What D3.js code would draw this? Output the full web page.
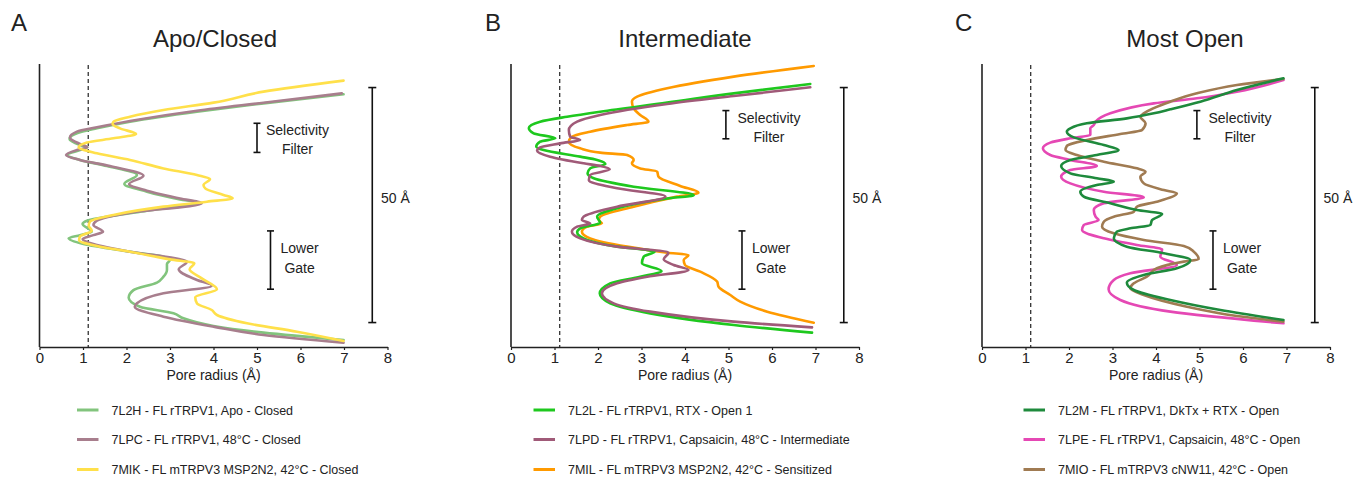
<!DOCTYPE html>
<html>
<head>
<meta charset="utf-8">
<script src="https://cdn.jsdelivr.net/npm/d3@7"></script>
<style>
  html, body { margin: 0; padding: 0; background: #fff; }
  svg { display: block; }
  text { font-family: "Liberation Sans", Arial, Helvetica, sans-serif; fill: #222; }
</style>
</head>
<body>
<svg id="chart" width="1356" height="479"></svg>
<script>
// ---------- DATA ----------
// Each profile: [pore radius (Å), position along pore axis (Å)]
const panelLetters = ["A", "B", "C"];
const panelTitles = ["Apo/Closed", "Intermediate", "Most Open"];
const xTicks = [0, 1, 2, 3, 4, 5, 6, 7, 8];
const xLabel = "Pore radius (Å)";
const waterRadius = 1.12;

// Panel A
const s7L2H = [[6.99,53.76],[5.15,51.84],[3.62,50.07],[2.08,47.94],[1.32,46.52],[0.86,45.46],[0.69,44.26],[0.93,42.98],[1.10,42.48],[0.93,41.9],[0.63,40.85],[0.93,39.8],[1.55,38.5],[2.24,36.6],[1.95,34.7],[2.47,33.05],[3.23,31.4],[3.62,30.7],[2.47,29.0],[1.70,27.94],[1.09,26.88],[0.99,26.17],[1.20,24.54],[0.93,23.8],[0.67,23.12],[1.01,21.9],[2.08,20.28],[2.85,19.22],[3.0,18.5],[2.93,17.66],[2.93,16.4],[2.85,14.96],[2.70,13.7],[2.16,12.1],[2.05,10.5],[2.31,8.58],[3.08,7.16],[3.31,6.1],[4.0,4.47],[5.15,3.05],[6.99,1.49]];
const s7LPC = [[6.95,53.97],[5.15,51.98],[3.62,50.28],[2.08,48.09],[1.32,46.74],[0.86,45.82],[0.70,44.6],[0.93,43.19],[1.10,42.48],[0.86,41.9],[0.61,40.85],[0.93,39.8],[1.62,38.5],[2.39,36.45],[2.06,34.68],[2.47,33.26],[3.23,31.6],[3.73,30.57],[2.08,28.58],[1.32,26.88],[1.24,25.96],[1.46,24.54],[1.24,23.8],[0.99,22.98],[1.24,21.9],[2.08,20.28],[3.23,18.65],[3.39,18.16],[3.2,16.52],[3.62,14.26],[3.96,13.05],[2.85,11.42],[2.24,9.29],[2.19,8.58],[2.85,6.45],[4.0,4.33],[5.15,2.55],[6.99,0.92]];
const s7MIK = [[6.99,56.67],[5.15,54.33],[4.0,51.99],[2.85,50.43],[2.08,49.0],[1.70,47.94],[1.68,47.45],[1.85,46.52],[2.22,45.3],[1.70,44.4],[1.09,43.5],[0.90,42.48],[1.32,41.2],[2.08,39.8],[2.85,38.0],[3.62,36.6],[3.92,35.74],[3.77,34.47],[3.81,33.76],[4.23,32.34],[4.44,31.63],[3.85,30.92],[2.85,29.86],[1.70,28.09],[1.16,26.67],[1.13,25.82],[1.20,24.75],[0.93,23.48],[0.91,22.7],[1.32,21.49],[2.08,20.28],[3.0,18.65],[3.56,17.8],[3.45,16.52],[3.73,14.6],[4.08,12.27],[3.58,10.57],[3.62,9.29],[3.96,7.87],[4.08,6.81],[4.77,5.04],[5.92,3.26],[6.99,1.28]];

// Panel B
const s7L2L = [[6.88,55.96],[5.12,53.97],[3.59,51.99],[2.05,50.07],[1.29,49.0],[0.67,47.94],[0.41,46.6],[0.52,45.46],[1.02,44.4],[0.67,43.69],[0.58,42.62],[0.75,41.9],[1.59,40.5],[1.98,39.8],[2.17,38.94],[1.82,38.0],[1.76,36.95],[1.9,35.9],[2.82,34.1],[4.2,32.3],[3.59,31.6],[2.44,29.5],[1.98,27.73],[2.05,26.45],[1.59,25.25],[1.52,24.4],[1.75,22.77],[2.44,21.35],[3.30,20.28],[3.05,19.22],[3.01,17.8],[3.46,16.17],[2.97,14.96],[2.28,13.55],[2.04,11.42],[2.28,9.29],[3.20,7.16],[5.12,4.68],[6.92,3.05]];
const s7LPD = [[6.88,55.25],[5.12,53.4],[3.59,51.7],[2.05,49.36],[1.52,47.94],[1.33,46.17],[1.36,44.75],[1.59,44.04],[1.13,43.33],[0.67,42.48],[0.6,41.77],[0.9,40.5],[1.67,39.08],[2.05,38.5],[2.27,37.8],[1.82,36.6],[1.79,35.5],[2.44,33.76],[3.55,32.0],[2.44,29.86],[1.67,27.73],[1.63,27.0],[1.82,26.3],[1.52,25.6],[1.40,24.54],[1.59,23.12],[2.44,21.35],[3.62,20.07],[3.51,18.65],[3.74,17.45],[4.08,16.38],[3.13,14.96],[2.44,13.55],[2.09,11.42],[2.36,9.29],[3.20,7.52],[5.12,5.39],[6.92,4.18]];
const s7MIL = [[6.96,59.79],[5.12,57.52],[3.59,55.04],[2.9,53.26],[2.78,52.2],[2.82,50.78],[2.97,49.36],[3.16,47.94],[2.67,47.23],[1.82,45.82],[1.40,44.75],[1.33,43.69],[1.59,42.27],[2.05,41.35],[2.67,40.85],[2.82,39.8],[2.78,39.08],[2.97,38.0],[3.36,37.3],[3.39,36.24],[3.89,34.26],[4.31,32.84],[3.82,31.99],[2.82,29.86],[2.05,27.73],[2.02,27.0],[2.09,26.31],[1.75,25.6],[1.63,24.54],[1.82,23.12],[2.67,21.35],[3.59,20.07],[4.08,19.57],[3.97,18.51],[4.0,17.45],[4.35,16.03],[4.74,13.9],[4.77,12.84],[5.04,11.06],[5.27,9.65],[5.89,7.52],[6.96,5.18]];

// Panel C
const s7L2M = [[6.93,57.16],[5.86,54.68],[5.02,52.2],[4.33,50.57],[3.95,49.72],[3.33,48.65],[2.41,47.59],[2.03,46.52],[1.95,45.82],[2.11,44.6],[2.80,42.98],[3.14,41.91],[2.64,40.85],[2.03,39.79],[1.82,38.5],[2.03,36.95],[2.64,35.89],[3.03,35.18],[2.64,34.47],[2.26,33.05],[2.34,31.99],[2.95,30.57],[3.56,29.15],[4.14,28.3],[3.91,27.0],[3.87,25.96],[3.41,25.25],[3.10,24.54],[3.03,23.12],[3.33,21.35],[4.18,19.93],[4.79,18.51],[4.48,16.74],[3.72,15.32],[3.33,13.69],[3.49,12.13],[4.33,10.0],[5.48,7.87],[6.93,5.74]];
const s7LPE = [[6.93,56.81],[5.86,54.33],[4.94,52.91],[3.95,51.84],[2.95,49.72],[2.61,47.94],[2.57,47.23],[2.49,46.52],[2.49,45.11],[2.03,44.4],[1.57,43.48],[1.40,42.27],[1.57,40.85],[2.03,39.79],[2.64,38.51],[2.03,37.66],[1.82,36.24],[2.03,34.82],[2.80,33.05],[3.72,31.84],[2.80,30.57],[2.57,29.15],[2.61,27.73],[2.68,27.0],[2.34,25.96],[2.30,24.89],[2.80,23.12],[3.56,21.7],[4.14,20.78],[4.10,19.22],[4.48,17.45],[3.41,15.67],[3.03,14.26],[2.91,12.27],[3.18,10.0],[4.33,7.52],[6.93,5.04]];
const s7MIO = [[6.93,57.02],[5.86,55.74],[4.94,53.97],[4.33,52.2],[3.72,49.72],[3.64,49.0],[3.76,47.59],[3.68,46.17],[3.18,45.32],[2.41,44.04],[1.95,42.77],[1.92,41.91],[2.18,40.85],[2.80,39.43],[3.56,38.01],[3.76,37.3],[3.64,36.24],[3.72,34.82],[4.18,33.4],[4.48,32.7],[4.02,30.92],[3.56,29.86],[3.49,28.79],[3.03,27.73],[2.80,26.67],[2.76,25.6],[3.03,24.18],[3.72,22.77],[4.64,21.49],[4.87,20.28],[4.98,18.65],[4.64,18.16],[4.02,16.74],[3.79,14.96],[3.49,13.55],[3.41,12.48],[3.72,11.06],[4.71,8.58],[5.86,6.6],[6.93,5.39]];

const legendA = ["7L2H - FL rTRPV1, Apo - Closed", "7LPC - FL rTRPV1, 48°C - Closed", "7MIK - FL mTRPV3 MSP2N2, 42°C - Closed"];
const legendB = ["7L2L - FL rTRPV1, RTX - Open 1", "7LPD - FL rTRPV1, Capsaicin, 48°C - Intermediate", "7MIL - FL mTRPV3 MSP2N2, 42°C - Sensitized"];
const legendC = ["7L2M - FL rTRPV1, DkTx + RTX - Open", "7LPE - FL rTRPV1, Capsaicin, 48°C - Open", "7MIO - FL mTRPV3 cNW11, 42°C - Open"];

// region bars [bottom, top] in Å along the axis
const fullSpan = [5.2, 55.2];
const sfSpans = [[41.4, 47.6], [44.3, 50.3], [44.3, 50.3]];
const lgSpan = [12.3, 24.7];
const spanLabel = "50 Å";

// ---------- STYLE / LAYOUT ----------
const colorsA = ["#82c47d", "#a87e8d", "#ffe04a"];
const colorsB = ["#1ec81e", "#a05a78", "#ff9a00"];
const colorsC = ["#1e8a3c", "#e548b4", "#a07b52"];

const panels = [
  { x0: 39.5, series: [s7L2H, s7LPC, s7MIK], order: [0, 1, 2], colors: colorsA, legend: legendA, titleX: 215, letterX: 11, legLine: 77, sfX: 5.0 },
  { x0: 511, series: [s7L2L, s7LPD, s7MIL], order: [2, 0, 1], colors: colorsB, legend: legendB, titleX: 685, letterX: 485, legLine: 533.5, sfX: 4.94 },
  { x0: 982, series: [s7L2M, s7LPE, s7MIO], order: [1, 2, 0], colors: colorsC, legend: legendC, titleX: 1185, letterX: 955, legLine: 1023.5, sfX: 4.94 }
];

const svg = d3.select("#chart");
const y = d3.scaleLinear().domain([0, 60]).range([347, 65]);

panels.forEach((p, pi) => {
  const x = d3.scaleLinear().domain([0, 8]).range([p.x0, p.x0 + 348]);
  const g = svg.append("g");

  // letter and title
  g.append("text").attr("x", p.letterX).attr("y", 31).attr("font-size", 24).text(panelLetters[pi]);
  g.append("text").attr("x", p.titleX).attr("y", 47).attr("font-size", 24).attr("text-anchor", "middle").text(panelTitles[pi]);

  // x axis
  const ax = g.append("g").attr("transform", `translate(0,${y(0)})`)
    .call(d3.axisBottom(x).tickValues(xTicks).tickFormat(d3.format("d")).tickSizeInner(3).tickSizeOuter(0).tickPadding(2));
  ax.select(".domain").attr("stroke", "#222").attr("stroke-width", 1.6);
  ax.selectAll(".tick line").attr("stroke", "#222").attr("stroke-width", 1.2);
  ax.selectAll(".tick text").attr("font-size", 15).attr("fill", "#222")
    .attr("font-family", '"Liberation Sans", Arial, sans-serif');

  // y axis line (no ticks)
  g.append("line").attr("x1", x(0)).attr("x2", x(0)).attr("y1", y(60.2)).attr("y2", y(0))
    .attr("stroke", "#222").attr("stroke-width", 1.6);

  g.append("text").attr("x", x(4)).attr("y", 379.5).attr("font-size", 14).attr("text-anchor", "middle").text(xLabel);

  // water radius dashed line
  g.append("line").attr("x1", x(waterRadius)).attr("x2", x(waterRadius)).attr("y1", y(60)).attr("y2", y(0))
    .attr("stroke", "#222").attr("stroke-width", 1.2).attr("stroke-dasharray", "4,3");

  // profiles
  const line = d3.line().x(d => x(d[0])).y(d => y(d[1])).curve(d3.curveMonotoneY);
  p.order.forEach(si => {
    const pts = p.series[si].slice().sort((a, b) => a[1] - b[1]);
    g.append("path").attr("d", line(pts)).attr("fill", "none")
      .attr("stroke", p.colors[si]).attr("stroke-width", 2.6).attr("stroke-linejoin", "round").attr("stroke-linecap", "round");
  });

  // scale bars
  function bar(xv, span, cap) {
    const bg = g.append("g").attr("stroke", "#111").attr("stroke-width", 1.6);
    bg.append("line").attr("x1", x(xv)).attr("x2", x(xv)).attr("y1", y(span[0])).attr("y2", y(span[1]));
    bg.append("line").attr("x1", x(xv) - cap).attr("x2", x(xv) + cap).attr("y1", y(span[0])).attr("y2", y(span[0]));
    bg.append("line").attr("x1", x(xv) - cap).attr("x2", x(xv) + cap).attr("y1", y(span[1])).attr("y2", y(span[1]));
  }
  bar(p.sfX, sfSpans[pi], 3.5);
  bar(5.31, lgSpan, 3.5);
  bar(7.65, fullSpan, 4);

  const sf = sfSpans[pi];
  g.append("text").attr("x", x(5.93)).attr("y", y(sf[1]) + 12).attr("font-size", 14).attr("text-anchor", "middle").text("Selectivity");
  g.append("text").attr("x", x(5.93)).attr("y", y(sf[1]) + 31).attr("font-size", 14).attr("text-anchor", "middle").text("Filter");
  g.append("text").attr("x", x(5.98)).attr("y", y(lgSpan[1]) + 22).attr("font-size", 14).attr("text-anchor", "middle").text("Lower");
  g.append("text").attr("x", x(5.98)).attr("y", y(lgSpan[1]) + 42.5).attr("font-size", 14).attr("text-anchor", "middle").text("Gate");
  g.append("text").attr("x", x(7.85)).attr("y", 203).attr("font-size", 14).text(spanLabel);

  // legend
  const rowsY = [410, 439.5, 469.5];
  p.legend.forEach((lab, i) => {
    g.append("line").attr("x1", p.legLine).attr("x2", p.legLine + 21.5).attr("y1", rowsY[i]).attr("y2", rowsY[i])
      .attr("stroke", p.colors[i]).attr("stroke-width", 3);
    g.append("text").attr("x", p.legLine + 34.5).attr("y", rowsY[i] + 4.5).attr("font-size", 12.5).text(lab);
  });
});
</script>
</body>
</html>
